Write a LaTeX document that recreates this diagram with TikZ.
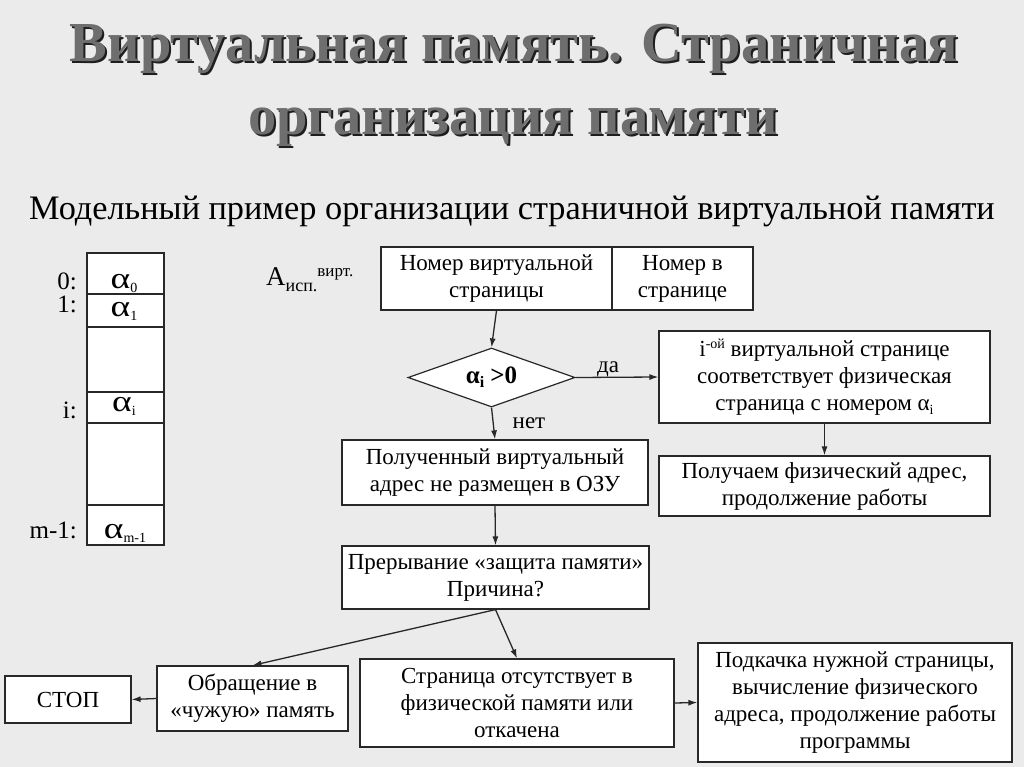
\documentclass[tikz,border=0pt]{standalone}
\usepackage{fontspec}
\setmainfont{Liberation Serif}
\usetikzlibrary{shapes.geometric,arrows.meta}
\definecolor{bgc}{RGB}{235,235,235}
\definecolor{ln}{RGB}{40,40,40}
\definecolor{ttl}{RGB}{110,110,110}
\definecolor{ttlsh}{RGB}{30,30,30}
\newcommand{\fsz}[2]{\fontsize{#1}{#2}\selectfont}
\newcommand{\sbs}[1]{\raisebox{-0.35ex}{\fsz{14}{14}#1}}
\newcommand{\talpha}{\scalebox{1.25}[1]{α}}
\begin{document}
\begin{tikzpicture}[x=1pt,y=-1pt,
  box/.style={draw=ln,line width=1.2pt,fill=white,inner sep=0pt,align=center,font=\fsz{23}{27}},
  cell/.style={draw=ln,line width=1.2pt,fill=white,inner sep=0pt,minimum width=77pt},
  arr/.style={-{Latex[length=9pt,width=6pt]},line width=1.3pt,draw=ln},
  lbl/.style={inner sep=0pt,font=\fsz{23}{27}},
  idx/.style={inner sep=0pt,anchor=base east,text height=17pt,text depth=0pt,font=\fsz{25}{25}},
  alp/.style={inner sep=0pt,anchor=base,text height=14pt,text depth=2pt,font=\fsz{30}{30}},
  ttlstyle/.style={inner sep=0pt,anchor=base,font=\bfseries\fsz{56.5}{56}}]
\fill[bgc] (0,0) rectangle (1024,767);
\useasboundingbox (0,0) rectangle (1024,767);

% title
\node[ttlstyle,text=ttlsh] (t1s) at (516,64) {Виртуальная память. Страничная};
\node[ttlstyle,text=ttl] (t1) at (514,62) {Виртуальная память. Страничная};
\node[ttlstyle,text=ttlsh] (t2s) at (515,137) {организация памяти};
\node[ttlstyle,text=ttl] (t2) at (513,135) {организация памяти};

% subtitle
\node[inner sep=0pt,anchor=base,font=\fsz{34.3}{34}] (sub) at (512,219) {Модельный пример организации страничной виртуальной памяти};

% table
\node[cell,minimum height=41pt] (c0) at (125.5,273.5) {};
\node[cell,minimum height=33pt] (c1) at (125.5,310.5) {};
\node[cell,minimum height=65pt] (c2) at (125.5,359.5) {};
\node[cell,minimum height=31pt] (c3) at (125.5,407.5) {};
\node[cell,minimum height=82pt] (c4) at (125.5,464) {};
\node[cell,minimum height=40pt] (c5) at (125.5,525) {};
\node[alp] (a0) at (124,288) {\talpha\sbs{0}};
\node[alp] (a1) at (124,316) {\talpha\sbs{1}};
\node[alp] (ai) at (124,411) {\talpha\sbs{i}};
\node[alp] (am) at (125,538) {\talpha\sbs{m-1}};
\node[idx] (i0) at (77,289) {0:};
\node[idx] (i1) at (77,312) {1:};
\node[idx] (ii) at (77,418) {i:};
\node[idx] (im) at (77,538) {m-1:};

% A
\node[inner sep=0pt,anchor=base west] (addr) at (266,285) {\fsz{27}{27}A\raisebox{-6pt}{\fsz{18}{18}исп.}\raisebox{9pt}{\fsz{17}{17}вирт.}};

% flow boxes
\node[box,minimum width=231pt,minimum height=63pt] (topL) at (496.5,278.5) {Номер виртуальной\\страницы};
\node[box,minimum width=141pt,minimum height=63pt] (topR) at (682.5,278.5) {Номер в\\странице};
\node[diamond,draw=ln,line width=1.2pt,fill=white,inner sep=0pt,aspect=2.83,minimum width=167pt,minimum height=59pt,font=\bfseries\fsz{25}{25}] (dia) at (491.5,377.5) {α\raisebox{-0.35ex}{\fsz{16}{16}i} >0};
\node[box,minimum width=331pt,minimum height=92pt] (b1) at (824.5,377) {i\raisebox{0.8ex}{\fsz{14}{14}-ой} виртуальной странице\\соответствует физическая\\страница с номером α\sbs{i}};
\node[box,minimum width=331pt,minimum height=60pt] (b2) at (824.5,486) {Получаем физический адрес,\\продолжение работы};
\node[box,minimum width=306pt,minimum height=65pt] (c1b) at (495,472.5) {Полученный виртуальный\\адрес не размещен в ОЗУ};
\node[box,minimum width=307pt,minimum height=63pt] (c2b) at (495.5,577.5) {Прерывание «защита памяти»\\Причина?};
\node[box,minimum width=191pt,minimum height=65pt] (d1) at (252.5,698.5) {Обращение в\\«чужую» память};
\node[box,minimum width=314pt,minimum height=88pt] (d2) at (517,703) {Страница отсутствует в\\физической памяти или\\откачена};
\node[box,minimum width=314pt,minimum height=119pt] (d3) at (855,702.5) {Подкачка нужной страницы,\\вычисление физического\\адреса, продолжение работы\\программы};
\node[box,minimum width=126pt,minimum height=47pt] (stop) at (68,699.5) {СТОП};

% labels
\node[lbl] (yes) at (608,369) {да};
\node[lbl] (no) at (529,423) {нет};

% arrows
\draw[arr] (topL.south) -- (dia.north);
\draw[arr] (dia.east) -- (b1.west);
\draw[arr] (dia.south) -- (c1b.north);
\draw[arr] (b1.south) -- (b2.north);
\draw[arr] (c1b.south) -- (c2b.north);
\draw[arr] (c2b.south) -- (d1.north);
\draw[arr] (c2b.south) -- (d2.north);
\draw[arr] (d1.west) -- (stop.east);
\draw[arr] (d2.east) -- (d3.west);
\end{tikzpicture}
\end{document}
